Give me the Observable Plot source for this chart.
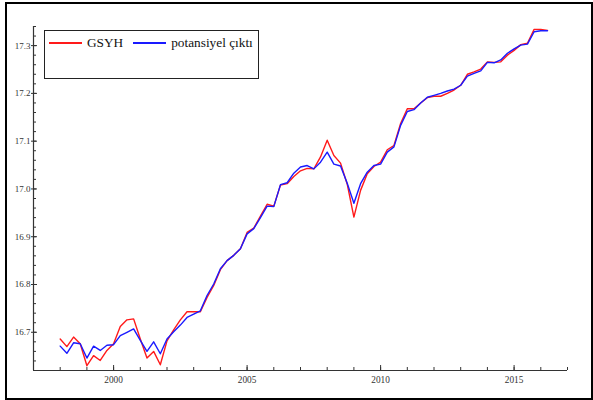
<!DOCTYPE html>
<html><head><meta charset="utf-8">
<script src="https://cdn.jsdelivr.net/npm/d3@7"></script>
<script src="https://cdn.jsdelivr.net/npm/@observablehq/plot@0.6"></script>
<style>
body{margin:0;background:#fff;}
#wrap{position:relative;width:593px;height:400px;overflow:hidden;}
#chart{position:absolute;left:0;top:0;}
#chart svg text{font-family:"Liberation Serif","Times New Roman",Times,serif !important;}
#frame{position:absolute;left:5px;top:2px;width:588px;height:398px;border:2px solid #000;box-sizing:border-box;pointer-events:none;}
#legend{position:absolute;left:44px;top:30px;width:215px;height:49px;border:1px solid #222;box-sizing:border-box;background:#fff;
  font-family:"Liberation Serif","Times New Roman",Times,serif;font-size:13.3px;color:#111;}
#legend .row{position:absolute;left:4px;top:2px;height:20px;display:flex;align-items:center;white-space:nowrap;}
#legend .sw{display:inline-block;width:33px;height:1.5px;margin-right:5px;}
</style></head>
<body>
<div id="wrap"><div id="chart"></div><div id="legend"></div><div id="frame"></div></div>
<script>
// series names
const seriesNames = ["GSYH", "potansiyel çıktı"];
const seriesColors = ["#ff1a1a", "#1a1aff"];
// quarterly observations, 1998Q1 .. 2016Q2
const startYear = 1998;
const gsyh = [
  16.686, 16.670, 16.690, 16.676,
  16.630, 16.651, 16.641, 16.662,
  16.676, 16.712, 16.726, 16.728,
  16.686, 16.646, 16.660, 16.632,
  16.682, 16.705, 16.726, 16.743,
  16.743, 16.743, 16.773, 16.798,
  16.831, 16.850, 16.861, 16.875,
  16.909, 16.918, 16.943, 16.968,
  16.964, 17.008, 17.011, 17.026,
  17.038, 17.043, 17.042, 17.067,
  17.102, 17.070, 17.054, 17.010,
  16.941, 16.997, 17.032, 17.047,
  17.056, 17.082, 17.091, 17.137,
  17.168, 17.168, 17.180, 17.191,
  17.194, 17.194, 17.200, 17.207,
  17.217, 17.240, 17.245, 17.251,
  17.266, 17.265, 17.266, 17.280,
  17.290, 17.302, 17.305, 17.334,
  17.334, 17.332
];
const potansiyel = [
  16.671, 16.656, 16.678, 16.676,
  16.646, 16.671, 16.662, 16.673,
  16.674, 16.693, 16.700, 16.707,
  16.683, 16.660, 16.680, 16.655,
  16.686, 16.701, 16.715, 16.731,
  16.738, 16.745, 16.777, 16.801,
  16.833, 16.850, 16.861, 16.875,
  16.906, 16.917, 16.940, 16.964,
  16.963, 17.009, 17.013, 17.033,
  17.046, 17.049, 17.042, 17.056,
  17.077, 17.052, 17.048, 17.012,
  16.970, 17.011, 17.035, 17.049,
  17.052, 17.077, 17.088, 17.133,
  17.162, 17.166, 17.180, 17.192,
  17.196, 17.200, 17.205, 17.209,
  17.217, 17.236, 17.242, 17.247,
  17.265, 17.264, 17.270, 17.284,
  17.293, 17.301, 17.303, 17.329,
  17.331, 17.331
];
// axes
const xDomain = [1997, 2017];
const yDomain = [16.62, 17.34];
const xLabelTicks = [2000, 2005, 2010, 2015];
const xMinorTicks = d3.range(1997, 2018);
const yLabelTicks = [16.7, 16.8, 16.9, 17.0, 17.1, 17.2, 17.3];
const yMinorTicks = d3.range(0, 37).map(i => +(16.62 + i * 0.02).toFixed(2));

const rows = [];
[gsyh, potansiyel].forEach((vals, s) => vals.forEach((v, i) => rows.push({series: seriesNames[s], t: startYear + i / 4, v})));

const axisColor = "#333";
const chart = Plot.plot({
  width: 593, height: 400,
  marginLeft: 33, marginRight: 26, marginTop: 26, marginBottom: 30,
  style: {background: "transparent", fontFamily: "'Liberation Serif', 'Times New Roman', serif", fontSize: "9px", color: axisColor},
  x: {domain: xDomain, label: null},
  y: {domain: yDomain, label: null},
  marks: [
    Plot.ruleX([xDomain[0]], {stroke: axisColor, strokeWidth: 1.2}),
    Plot.ruleY([yDomain[0]], {stroke: axisColor, strokeWidth: 1.2}),
    Plot.axisY(yMinorTicks, {tickSize: -3, fill: "none", stroke: axisColor, label: null}),
    Plot.axisY(yLabelTicks, {tickSize: -4, fill: "none", stroke: axisColor, label: null}),
    Plot.axisY(yLabelTicks, {tickSize: 2, tickPadding: 1, stroke: axisColor, fill: axisColor, tickFormat: d => d.toFixed(1), label: null, fontSize: 9}),
    Plot.axisX(xMinorTicks, {tickSize: -3, fill: "none", stroke: axisColor, label: null}),
    Plot.axisX(xLabelTicks, {tickSize: -5, fill: "none", stroke: axisColor, label: null}),
    Plot.axisX(xLabelTicks, {tickSize: 0, tickPadding: 6, fill: axisColor, tickFormat: d => String(d), label: null, fontSize: 9.3}),
    Plot.line(rows.filter(d => d.series === seriesNames[0]), {x: "t", y: "v", stroke: seriesColors[0], strokeWidth: 1.4}),
    Plot.line(rows.filter(d => d.series === seriesNames[1]), {x: "t", y: "v", stroke: seriesColors[1], strokeWidth: 1.4})
  ]
});
document.getElementById("chart").appendChild(chart);

const legend = document.getElementById("legend");
const row = document.createElement("div");
row.className = "row";
seriesNames.forEach((name, i) => {
  const sw = document.createElement("span");
  sw.className = "sw";
  sw.style.background = seriesColors[i];
  const tx = document.createElement("span");
  tx.textContent = name;
  if (i === 0) tx.style.marginRight = "10px";
  row.appendChild(sw);
  row.appendChild(tx);
});
legend.appendChild(row);
</script>
</body></html>
